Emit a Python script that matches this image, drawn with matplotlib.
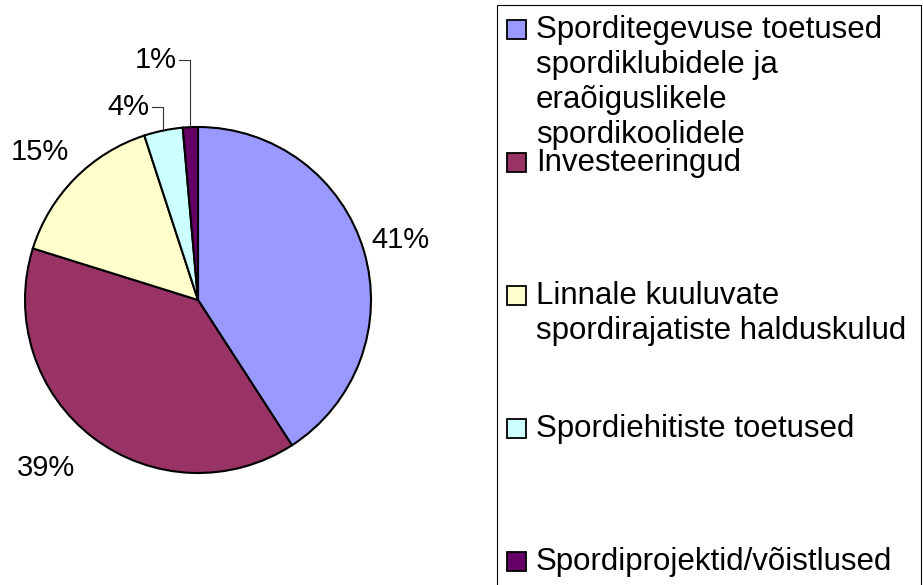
import numpy as np
import matplotlib
matplotlib.use("Agg")
import matplotlib.pyplot as plt
from matplotlib.patches import Rectangle

plt.rcParams['font.family'] = ['Liberation Sans', 'DejaVu Sans']

# shares (labels round them)
categories = [
    "Sporditegevuse toetused\nspordiklubidele ja\neraõiguslikele\nspordikoolidele",
    "Investeeringud",
    "Linnale kuuluvate\nspordirajatiste halduskulud",
    "Spordiehitiste toetused",
    "Spordiprojektid/võistlused",
]
shares = [40.7, 38.8, 15.1, 3.6, 1.4]
colors = ['#9999FF', '#993366', '#FFFFCC', '#CCFFFF', '#660066']

W, H = 923, 585
fig = plt.figure(figsize=(W / 100, H / 100), dpi=100)
ax = fig.add_axes([0, 0, 1, 1])

cx, cy, R = 198, H - 300, 173   # pie centre / radius in pixels
wedges, _ = ax.pie(shares, colors=colors, startangle=90, counterclock=False,
                   center=(cx, cy), radius=R,
                   wedgeprops=dict(edgecolor='black', linewidth=1.5))
ax.set_xlim(0, W)
ax.set_ylim(0, H)
ax.set_aspect('equal')
ax.axis('off')

pct = ["%d%%" % round(s) for s in shares]

# big slices: label outside on the mid angle
label_r = [1.22, 1.31, 1.25]
label_nudge = [0, -5, 1.5]
for w, txt, k, dn in zip(wedges[:3], pct[:3], label_r, label_nudge):
    a = np.deg2rad((w.theta1 + w.theta2) / 2 + dn)
    ax.text(cx + k * R * np.cos(a), cy + k * R * np.sin(a), txt,
            ha='center', va='center', fontsize=21)

# small slices: elbow leader line up from the rim
leader_h = [1.115, 1.39]
for w, txt, k in zip(wedges[3:], pct[3:], leader_h):
    a = np.deg2rad((w.theta1 + w.theta2) / 2)
    ex, ey = cx + R * np.cos(a), cy + R * np.sin(a)
    ly = cy + k * R
    ax.plot([ex - 11, ex, ex], [ly, ly, ey], color='#333333', lw=0.8)
    ax.text(ex - 14, ly, txt, ha='right', va='center', fontsize=21)

# legend drawn by hand (Excel-style even slots)
ax.add_patch(Rectangle((497, -10), 424, H - 5 + 10, fill=False,
                       edgecolor='black', lw=0.8))
base0, slot, pitch = 38, 133, 35
for i, (lab, col) in enumerate(zip(categories, colors)):
    b = base0 + i * slot
    ax.add_patch(Rectangle((507, H - b + 9 - 9.5), 19, 19, facecolor=col,
                           edgecolor='black', lw=1.3))
    for j, line in enumerate(lab.split('\n')):
        ax.text(536, H - (b + j * pitch), line, ha='left', va='baseline',
                fontsize=22.5)

fig.savefig('out.png', dpi=100)
